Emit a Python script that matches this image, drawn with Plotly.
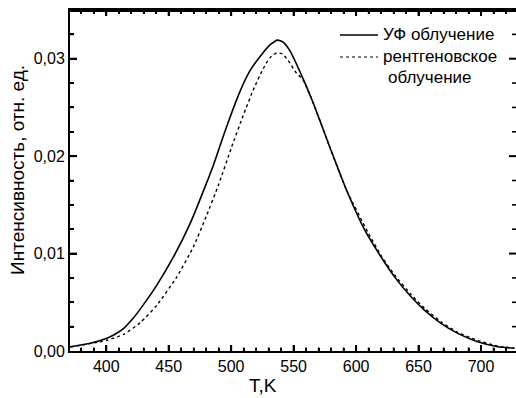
import plotly.graph_objects as go

# УФ облучение (solid)
t_uv = [371.2, 387.2, 400.5, 407.0, 413.8, 420.5, 427.2, 440.5, 453.8, 467.1, 480.5, 485.7,
        492.5, 499.1, 507.1, 515.1, 525.7, 531.5, 537.2, 541.5, 547.1, 557.7, 565.7, 579.0,
        592.4, 607.0, 620.0, 630.8, 644.0, 654.7, 668.0, 681.4, 697.3, 713.3, 726.7]
i_uv = [0.00044, 0.00079, 0.0013, 0.00172, 0.0023, 0.0032, 0.0043, 0.00676, 0.00965,
        0.01307, 0.01731, 0.01905, 0.02160, 0.02400, 0.02665, 0.02877, 0.03064, 0.03146,
        0.03191, 0.03170, 0.03080, 0.02790, 0.02545, 0.02092, 0.01650, 0.01240, 0.00965,
        0.00761, 0.00556, 0.00420, 0.00284, 0.00181, 0.00095, 0.00044, 0.00028]

# рентгеновское облучение (dotted)
t_xr = [371.2, 400.5, 413.8, 427.2, 440.5, 456.5, 469.8, 480.0, 490.0, 500.0, 509.7,
        517.7, 525.7, 531.0, 536.5, 541.0, 545.7, 552.4, 557.7, 565.7, 579.0, 592.4,
        609.4, 620.0, 630.8, 644.0, 654.7, 668.0, 681.4, 697.3, 713.3, 726.7]
i_xr = [0.0004, 0.0011, 0.0017, 0.0029, 0.0047, 0.0076, 0.0107, 0.0138, 0.0171, 0.0208,
        0.0242, 0.0268, 0.0290, 0.0301, 0.0306, 0.0305, 0.0298, 0.0285, 0.0278, 0.02545,
        0.0209, 0.0165, 0.0122, 0.0098, 0.0078, 0.0058, 0.0044, 0.0030, 0.0019, 0.0011,
        0.0005, 0.0003]

x_range = [371, 728]
y_range = [0, 0.035]
x_major = [400, 450, 500, 550, 600, 650, 700]
x_minor = [380, 390, 410, 420, 430, 440, 460, 470, 480, 490, 510, 520, 530, 540,
           560, 570, 580, 590, 610, 620, 630, 640, 660, 670, 680, 690, 710, 720]
y_major = [0.0, 0.01, 0.02, 0.03]
y_minor = [0.0025, 0.005, 0.0075, 0.0125, 0.015, 0.0175, 0.0225, 0.025, 0.0275, 0.0325]
y_labels = ["0,00", "0,01", "0,02", "0,03"]
legend_labels = ["УФ облучение", "рентгеновское", "облучение"]
x_title = "T,K"
y_title = "Интенсивность, отн. ед."

FONT = "Liberation Sans"
W, H = 516, 398
M = dict(l=70, r=0, t=10, b=47)
plot_w = W - M["l"] - M["r"]
plot_h = H - M["t"] - M["b"]
px_x = (x_range[1] - x_range[0]) / plot_w
px_y = (y_range[1] - y_range[0]) / plot_h

fig = go.Figure()
fig.add_trace(go.Scatter(x=t_uv, y=i_uv, mode="lines", showlegend=False,
                         line=dict(color="black", width=1.6, shape="spline", smoothing=0.5)))
fig.add_trace(go.Scatter(x=t_xr, y=i_xr, mode="lines", showlegend=False,
                         line=dict(color="black", width=1.4, dash="dot", shape="spline", smoothing=0.5)))


def tick_trace(xs, ys, width):
    fig.add_trace(go.Scatter(x=xs, y=ys, mode="lines", showlegend=False, hoverinfo="skip",
                             line=dict(color="#000000", width=width)))


def x_ticks(vals, length_px, width):
    xs, ys = [], []
    for v in vals:
        xs += [v, v, None, v, v, None]
        ys += [y_range[0], y_range[0] + length_px * px_y, None,
               y_range[1], y_range[1] - length_px * px_y, None]
    tick_trace(xs, ys, width)


def y_ticks(vals, length_px, width):
    xs, ys = [], []
    for v in vals:
        xs += [x_range[0], x_range[0] + length_px * px_x, None,
               x_range[1], x_range[1] - length_px * px_x, None]
        ys += [v, v, None, v, v, None]
    tick_trace(xs, ys, width)


x_ticks(x_major, 6, 2)
x_ticks(x_minor, 3.5, 1.6)
y_ticks([v for v in y_major if v > y_range[0]], 7, 2)
y_ticks(y_minor, 4, 1.6)
tick_trace([x_range[0], x_range[1]], [y_range[1], y_range[1]], 4)

tickfont = dict(family=FONT, size=16, color="black")

fig.update_layout(
    width=W, height=H,
    margin=M,
    paper_bgcolor="white", plot_bgcolor="white",
    showlegend=False,
    xaxis=dict(range=x_range, tickvals=x_major, ticks="inside", ticklen=6, tickwidth=2,
               tickcolor="#000000", showline=True, linecolor="#000000", linewidth=2,
               mirror="ticks", showgrid=False, zeroline=False, tickfont=tickfont,
               minor=dict(ticks="inside", ticklen=3.5, tickwidth=1.6, dtick=10,
                          tickcolor="#000000")),
    yaxis=dict(range=y_range, tickvals=y_major, ticktext=y_labels, ticks="inside",
               ticklen=7, tickwidth=2, tickcolor="#000000", showline=True,
               linecolor="#000000", linewidth=2, showgrid=False, zeroline=False,
               tickfont=tickfont,
               minor=dict(ticks="inside", ticklen=4, tickwidth=1.6, dtick=0.0025,
                          tickcolor="#000000")),
)

# legend (line samples + labels)
fig.add_shape(type="line", xref="paper", yref="paper", x0=0.6054, x1=0.6906,
              y0=0.9267, y1=0.9267, line=dict(color="black", width=1.3))
fig.add_shape(type="line", xref="paper", yref="paper", x0=0.6054, x1=0.6906,
              y0=0.8622, y1=0.8622, line=dict(color="black", width=1.2, dash="dot"))
fig.add_annotation(text=legend_labels[0], xref="paper", yref="paper", x=0.6973, y=0.9267,
                   xanchor="left", yanchor="middle", showarrow=False,
                   font=dict(family=FONT, size=17, color="black"))
fig.add_annotation(text=legend_labels[1], xref="paper", yref="paper", x=0.6973, y=0.8622,
                   xanchor="left", yanchor="middle", showarrow=False,
                   font=dict(family=FONT, size=17, color="black"))
fig.add_annotation(text=legend_labels[2], xref="paper", yref="paper", x=0.7085, y=0.8035,
                   xanchor="left", yanchor="middle", showarrow=False,
                   font=dict(family=FONT, size=17, color="black"))

fig.add_annotation(text=x_title, xref="paper", yref="paper", x=0.4327, y=-0.1026,
                   xanchor="center", yanchor="middle", showarrow=False,
                   font=dict(family=FONT, size=19, color="black"))
fig.add_annotation(text=y_title, xref="paper", yref="paper",
                   x=-0.1166, y=0.531, xanchor="center", yanchor="middle", textangle=-90,
                   showarrow=False, font=dict(family=FONT, size=19, color="black"))

fig.write_html("out.html")
